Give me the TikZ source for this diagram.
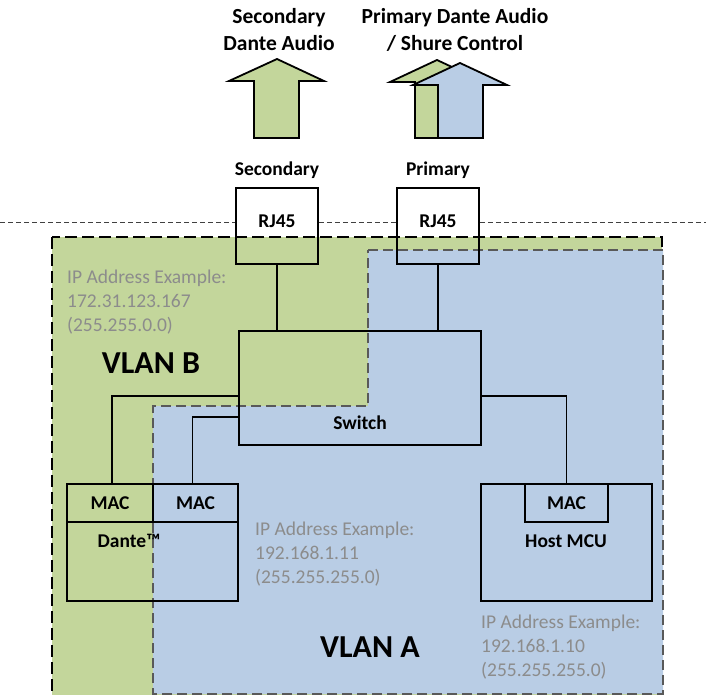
\documentclass[tikz,border=0pt]{standalone}
\usepackage{fontspec}
\setmainfont{Carlito}
\usepackage{tikz}
\usetikzlibrary{positioning}

\definecolor{vlanbgreen}{HTML}{C3D69B}
\definecolor{vlanablue}{HTML}{B9CDE5}
\definecolor{ipgray}{HTML}{8C8C8C}
\definecolor{edgegray}{HTML}{595959}

\tikzset{
    box/.style = {draw, line width = 1.8pt, inner sep = 0pt},
    boxlabel/.style = {font = \bfseries\fontsize{19.5}{22}\selectfont, inner sep = 0pt},
    toplabel/.style = {font = \bfseries\fontsize{21.5}{27}\selectfont, align = center, inner sep = 0pt},
    iptext/.style = {font = \fontsize{19.5}{24}\selectfont, text = ipgray, align = left, anchor = north west, inner sep = 0pt},
    vlanlabel/.style = {font = \bfseries\fontsize{32}{38}\selectfont, inner sep = 0pt},
    wire/.style = {line width = 1.1pt},
    cutline/.style = {draw = black!75, line width = 0.9pt, dash pattern = on 5pt off 3pt},
    blockarrow/.style = {draw, line width = 1.8pt, line join = miter}
}

\begin{document}
\begin{tikzpicture}[x = 1pt, y = -1pt]
        \useasboundingbox (0, 0) rectangle (706, 695);
        % the two VLANs
        \filldraw [fill = vlanbgreen, draw = black, line width = 2.2pt, dash pattern = on 12pt off 5pt]
        (52, 237) rectangle (662, 702);
        \filldraw [fill = vlanablue, draw = edgegray, line width = 2pt, dash pattern = on 10pt off 5pt]
        (368, 250) -- (663, 250) -- (663, 694) -- (153, 694) -- (153, 406) -- (368, 406) -- cycle;
        % outgoing streams
        \filldraw [blockarrow, fill = vlanbgreen]
        (277, 59) -- (324, 81) -- (299, 81) -- (299, 138) -- (254, 138) -- (254, 81) -- (229, 81) -- cycle;
        \filldraw [blockarrow, fill = vlanbgreen]
        (437, 60) -- (484, 82) -- (460, 82) -- (460, 138) -- (415, 138) -- (415, 82) -- (390, 82) -- cycle;
        \filldraw [blockarrow, fill = vlanablue]
        (460, 63) -- (507, 85) -- (483, 85) -- (483, 138) -- (438, 138) -- (438, 85) -- (413, 85) -- cycle;
        \node [toplabel] (secstream) at (279, 30) {Secondary\\Dante Audio};
        \node [toplabel] (primstream) at (455, 30) {Primary Dante Audio\\/ Shure Control};
        % jacks
        \node [box, minimum width = 82pt, minimum height = 76pt] (rjsec) at (277, 226) {};
        \node [box, minimum width = 82pt, minimum height = 76pt] (rjprim) at (438, 226) {};
        \node [boxlabel] (rjsectxt) at ([yshift = 5pt]rjsec.center) {RJ45};
        \node [boxlabel] (rjprimtxt) at ([yshift = 5pt]rjprim.center) {RJ45};
        \node [boxlabel, above = 8pt of rjsec] (seclbl) {Secondary};
        \node [boxlabel, above = 8pt of rjprim] (primlbl) {Primary};
        \coordinate (cutl) at (0, 222);
        \coordinate (cutr) at (706, 222);
        \draw [cutline] (cutl) -- (cutl -| rjsec.west);
        \draw [cutline] (cutl -| rjsec.east) -- (cutl -| rjprim.west);
        \draw [cutline] (cutl -| rjprim.east) -- (cutr);
        % switch
        \node [box, minimum width = 242pt, minimum height = 114pt] (switch) at (360, 388) {};
        \node [boxlabel] (switchtxt) at (360, 423) {Switch};
        % Dante device
        \node [box, minimum width = 171pt, minimum height = 117pt] (dante) at (152.5, 542.5) {};
        \node [box, boxlabel, minimum width = 86pt, minimum height = 38pt, anchor = north west] (macb) at (dante.north west) {MAC};
        \node [box, boxlabel, minimum width = 85pt, minimum height = 38pt, anchor = north east] (maca) at (dante.north east) {MAC};
        \node [boxlabel] (dantetxt) at (129, 541) {Dante™};
        % host
        \node [box, minimum width = 171pt, minimum height = 117pt] (host) at (566.5, 542.5) {};
        \node [box, boxlabel, minimum width = 83pt, minimum height = 38pt, anchor = north] (hostmac) at (host.north) {MAC};
        \node [boxlabel] (hosttxt) at (566, 541) {Host MCU};
        % wiring
        \draw [wire] (rjsec.south) -- (rjsec.south |- switch.north);
        \draw [wire] (rjprim.south) -- (rjprim.south |- switch.north);
        \draw [wire] ([yshift = -8pt]switch.west) -| ([xshift = 2pt]macb.north);
        \draw [wire] ([yshift = -29pt]switch.west) -| ([xshift = -3pt]maca.north);
        \draw [wire] ([yshift = -8pt]switch.east) -| (hostmac.north);
        % addresses
        \node [iptext] (ipb) at (67, 270) {IP Address Example:\\172.31.123.167\\(255.255.0.0)};
        \node [iptext] (ipdante) at (255, 522) {IP Address Example:\\192.168.1.11\\(255.255.255.0)};
        \node [iptext] (iphost) at (481, 615) {IP Address Example:\\192.168.1.10\\(255.255.255.0)};
        \node [vlanlabel] (vlanb) at (151, 363) {VLAN B};
        \node [vlanlabel] (vlana) at (370, 647) {VLAN A};
    \end{tikzpicture}
\end{document}
